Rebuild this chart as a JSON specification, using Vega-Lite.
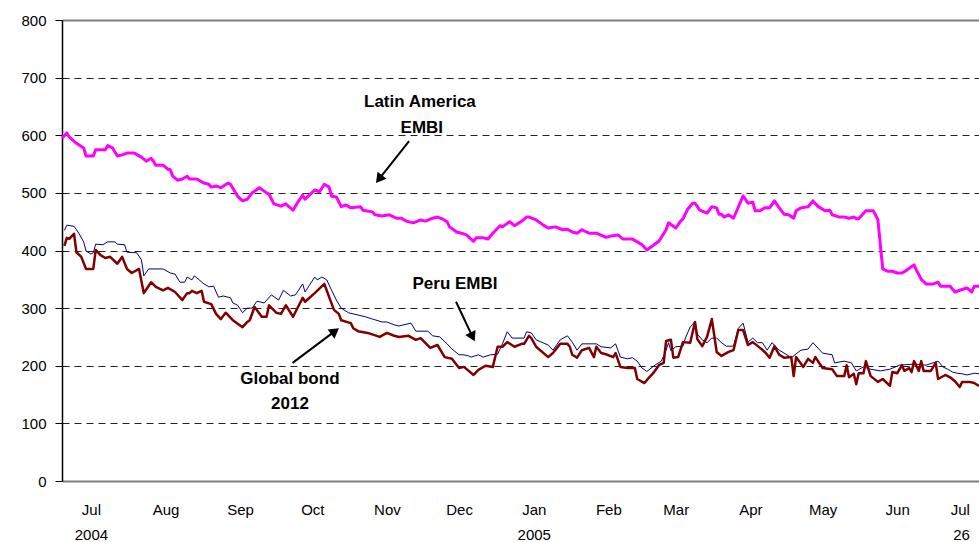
{
  "$schema": "https://vega.github.io/schema/vega-lite/v6.json",
  "width": 917,
  "height": 461,
  "autosize": {"type": "none"},
  "padding": {"left": 62, "top": 20, "right": 0, "bottom": 61},
  "background": "white",
  "config": {"view": {"stroke": null}, "font": "Liberation Sans"},
  "datasets": {
    "spreads": [
      {"series":"Latin America EMBI","date":"2004-06-19","value":595},
      {"series":"Latin America EMBI","date":"2004-06-21","value":604},
      {"series":"Latin America EMBI","date":"2004-06-22","value":597},
      {"series":"Latin America EMBI","date":"2004-06-25","value":586},
      {"series":"Latin America EMBI","date":"2004-06-28","value":578},
      {"series":"Latin America EMBI","date":"2004-06-29","value":564},
      {"series":"Latin America EMBI","date":"2004-07-02","value":564},
      {"series":"Latin America EMBI","date":"2004-07-03","value":575},
      {"series":"Latin America EMBI","date":"2004-07-07","value":575},
      {"series":"Latin America EMBI","date":"2004-07-08","value":582},
      {"series":"Latin America EMBI","date":"2004-07-10","value":578},
      {"series":"Latin America EMBI","date":"2004-07-12","value":564},
      {"series":"Latin America EMBI","date":"2004-07-14","value":566},
      {"series":"Latin America EMBI","date":"2004-07-16","value":569},
      {"series":"Latin America EMBI","date":"2004-07-19","value":569},
      {"series":"Latin America EMBI","date":"2004-07-22","value":562},
      {"series":"Latin America EMBI","date":"2004-07-24","value":555},
      {"series":"Latin America EMBI","date":"2004-07-26","value":560},
      {"series":"Latin America EMBI","date":"2004-07-27","value":555},
      {"series":"Latin America EMBI","date":"2004-07-28","value":548},
      {"series":"Latin America EMBI","date":"2004-07-31","value":548},
      {"series":"Latin America EMBI","date":"2004-08-02","value":541},
      {"series":"Latin America EMBI","date":"2004-08-03","value":540},
      {"series":"Latin America EMBI","date":"2004-08-04","value":529},
      {"series":"Latin America EMBI","date":"2004-08-06","value":522},
      {"series":"Latin America EMBI","date":"2004-08-08","value":524},
      {"series":"Latin America EMBI","date":"2004-08-10","value":529},
      {"series":"Latin America EMBI","date":"2004-08-11","value":524},
      {"series":"Latin America EMBI","date":"2004-08-14","value":524},
      {"series":"Latin America EMBI","date":"2004-08-17","value":517},
      {"series":"Latin America EMBI","date":"2004-08-19","value":515},
      {"series":"Latin America EMBI","date":"2004-08-20","value":510},
      {"series":"Latin America EMBI","date":"2004-08-22","value":512},
      {"series":"Latin America EMBI","date":"2004-08-24","value":509},
      {"series":"Latin America EMBI","date":"2004-08-27","value":517},
      {"series":"Latin America EMBI","date":"2004-08-28","value":515},
      {"series":"Latin America EMBI","date":"2004-08-31","value":494},
      {"series":"Latin America EMBI","date":"2004-09-02","value":486},
      {"series":"Latin America EMBI","date":"2004-09-04","value":489},
      {"series":"Latin America EMBI","date":"2004-09-06","value":500},
      {"series":"Latin America EMBI","date":"2004-09-09","value":509},
      {"series":"Latin America EMBI","date":"2004-09-12","value":500},
      {"series":"Latin America EMBI","date":"2004-09-13","value":498},
      {"series":"Latin America EMBI","date":"2004-09-15","value":481},
      {"series":"Latin America EMBI","date":"2004-09-18","value":477},
      {"series":"Latin America EMBI","date":"2004-09-20","value":481},
      {"series":"Latin America EMBI","date":"2004-09-21","value":477},
      {"series":"Latin America EMBI","date":"2004-09-23","value":470},
      {"series":"Latin America EMBI","date":"2004-09-25","value":484},
      {"series":"Latin America EMBI","date":"2004-09-27","value":496},
      {"series":"Latin America EMBI","date":"2004-09-28","value":489},
      {"series":"Latin America EMBI","date":"2004-09-29","value":493},
      {"series":"Latin America EMBI","date":"2004-10-02","value":505},
      {"series":"Latin America EMBI","date":"2004-10-04","value":502},
      {"series":"Latin America EMBI","date":"2004-10-06","value":515},
      {"series":"Latin America EMBI","date":"2004-10-08","value":510},
      {"series":"Latin America EMBI","date":"2004-10-09","value":494},
      {"series":"Latin America EMBI","date":"2004-10-11","value":493},
      {"series":"Latin America EMBI","date":"2004-10-13","value":476},
      {"series":"Latin America EMBI","date":"2004-10-15","value":479},
      {"series":"Latin America EMBI","date":"2004-10-17","value":474},
      {"series":"Latin America EMBI","date":"2004-10-21","value":476},
      {"series":"Latin America EMBI","date":"2004-10-22","value":470},
      {"series":"Latin America EMBI","date":"2004-10-26","value":467},
      {"series":"Latin America EMBI","date":"2004-10-27","value":462},
      {"series":"Latin America EMBI","date":"2004-10-30","value":460},
      {"series":"Latin America EMBI","date":"2004-11-02","value":462},
      {"series":"Latin America EMBI","date":"2004-11-05","value":456},
      {"series":"Latin America EMBI","date":"2004-11-07","value":456},
      {"series":"Latin America EMBI","date":"2004-11-09","value":451},
      {"series":"Latin America EMBI","date":"2004-11-12","value":448},
      {"series":"Latin America EMBI","date":"2004-11-15","value":453},
      {"series":"Latin America EMBI","date":"2004-11-17","value":451},
      {"series":"Latin America EMBI","date":"2004-11-20","value":456},
      {"series":"Latin America EMBI","date":"2004-11-22","value":458},
      {"series":"Latin America EMBI","date":"2004-11-24","value":455},
      {"series":"Latin America EMBI","date":"2004-11-26","value":450},
      {"series":"Latin America EMBI","date":"2004-11-27","value":441},
      {"series":"Latin America EMBI","date":"2004-11-30","value":432},
      {"series":"Latin America EMBI","date":"2004-12-02","value":430},
      {"series":"Latin America EMBI","date":"2004-12-04","value":427},
      {"series":"Latin America EMBI","date":"2004-12-07","value":416},
      {"series":"Latin America EMBI","date":"2004-12-08","value":422},
      {"series":"Latin America EMBI","date":"2004-12-11","value":422},
      {"series":"Latin America EMBI","date":"2004-12-13","value":420},
      {"series":"Latin America EMBI","date":"2004-12-15","value":430},
      {"series":"Latin America EMBI","date":"2004-12-18","value":443},
      {"series":"Latin America EMBI","date":"2004-12-19","value":441},
      {"series":"Latin America EMBI","date":"2004-12-22","value":450},
      {"series":"Latin America EMBI","date":"2004-12-24","value":443},
      {"series":"Latin America EMBI","date":"2004-12-27","value":451},
      {"series":"Latin America EMBI","date":"2004-12-29","value":458},
      {"series":"Latin America EMBI","date":"2004-12-30","value":458},
      {"series":"Latin America EMBI","date":"2005-01-02","value":453},
      {"series":"Latin America EMBI","date":"2005-01-05","value":444},
      {"series":"Latin America EMBI","date":"2005-01-07","value":439},
      {"series":"Latin America EMBI","date":"2005-01-10","value":441},
      {"series":"Latin America EMBI","date":"2005-01-13","value":436},
      {"series":"Latin America EMBI","date":"2005-01-15","value":437},
      {"series":"Latin America EMBI","date":"2005-01-17","value":432},
      {"series":"Latin America EMBI","date":"2005-01-19","value":430},
      {"series":"Latin America EMBI","date":"2005-01-21","value":436},
      {"series":"Latin America EMBI","date":"2005-01-24","value":430},
      {"series":"Latin America EMBI","date":"2005-01-27","value":430},
      {"series":"Latin America EMBI","date":"2005-01-31","value":423},
      {"series":"Latin America EMBI","date":"2005-02-02","value":425},
      {"series":"Latin America EMBI","date":"2005-02-05","value":427},
      {"series":"Latin America EMBI","date":"2005-02-07","value":420},
      {"series":"Latin America EMBI","date":"2005-02-11","value":420},
      {"series":"Latin America EMBI","date":"2005-02-13","value":415},
      {"series":"Latin America EMBI","date":"2005-02-15","value":410},
      {"series":"Latin America EMBI","date":"2005-02-17","value":401},
      {"series":"Latin America EMBI","date":"2005-02-20","value":410},
      {"series":"Latin America EMBI","date":"2005-02-22","value":416},
      {"series":"Latin America EMBI","date":"2005-02-25","value":436},
      {"series":"Latin America EMBI","date":"2005-02-26","value":448},
      {"series":"Latin America EMBI","date":"2005-03-01","value":439},
      {"series":"Latin America EMBI","date":"2005-03-03","value":451},
      {"series":"Latin America EMBI","date":"2005-03-04","value":455},
      {"series":"Latin America EMBI","date":"2005-03-06","value":472},
      {"series":"Latin America EMBI","date":"2005-03-08","value":482},
      {"series":"Latin America EMBI","date":"2005-03-09","value":482},
      {"series":"Latin America EMBI","date":"2005-03-11","value":470},
      {"series":"Latin America EMBI","date":"2005-03-14","value":465},
      {"series":"Latin America EMBI","date":"2005-03-16","value":476},
      {"series":"Latin America EMBI","date":"2005-03-18","value":474},
      {"series":"Latin America EMBI","date":"2005-03-19","value":463},
      {"series":"Latin America EMBI","date":"2005-03-20","value":463},
      {"series":"Latin America EMBI","date":"2005-03-21","value":458},
      {"series":"Latin America EMBI","date":"2005-03-23","value":462},
      {"series":"Latin America EMBI","date":"2005-03-25","value":456},
      {"series":"Latin America EMBI","date":"2005-03-29","value":495},
      {"series":"Latin America EMBI","date":"2005-03-31","value":482},
      {"series":"Latin America EMBI","date":"2005-04-02","value":484},
      {"series":"Latin America EMBI","date":"2005-04-03","value":469},
      {"series":"Latin America EMBI","date":"2005-04-05","value":469},
      {"series":"Latin America EMBI","date":"2005-04-07","value":474},
      {"series":"Latin America EMBI","date":"2005-04-09","value":474},
      {"series":"Latin America EMBI","date":"2005-04-11","value":486},
      {"series":"Latin America EMBI","date":"2005-04-13","value":474},
      {"series":"Latin America EMBI","date":"2005-04-15","value":463},
      {"series":"Latin America EMBI","date":"2005-04-17","value":462},
      {"series":"Latin America EMBI","date":"2005-04-19","value":456},
      {"series":"Latin America EMBI","date":"2005-04-20","value":469},
      {"series":"Latin America EMBI","date":"2005-04-22","value":474},
      {"series":"Latin America EMBI","date":"2005-04-25","value":476},
      {"series":"Latin America EMBI","date":"2005-04-27","value":486},
      {"series":"Latin America EMBI","date":"2005-04-29","value":477},
      {"series":"Latin America EMBI","date":"2005-05-02","value":469},
      {"series":"Latin America EMBI","date":"2005-05-04","value":470},
      {"series":"Latin America EMBI","date":"2005-05-05","value":462},
      {"series":"Latin America EMBI","date":"2005-05-08","value":458},
      {"series":"Latin America EMBI","date":"2005-05-10","value":458},
      {"series":"Latin America EMBI","date":"2005-05-12","value":456},
      {"series":"Latin America EMBI","date":"2005-05-14","value":458},
      {"series":"Latin America EMBI","date":"2005-05-15","value":455},
      {"series":"Latin America EMBI","date":"2005-05-16","value":455},
      {"series":"Latin America EMBI","date":"2005-05-19","value":469},
      {"series":"Latin America EMBI","date":"2005-05-22","value":469},
      {"series":"Latin America EMBI","date":"2005-05-23","value":462},
      {"series":"Latin America EMBI","date":"2005-05-24","value":453},
      {"series":"Latin America EMBI","date":"2005-05-26","value":368},
      {"series":"Latin America EMBI","date":"2005-05-28","value":364},
      {"series":"Latin America EMBI","date":"2005-05-30","value":364},
      {"series":"Latin America EMBI","date":"2005-06-01","value":361},
      {"series":"Latin America EMBI","date":"2005-06-03","value":361},
      {"series":"Latin America EMBI","date":"2005-06-05","value":366},
      {"series":"Latin America EMBI","date":"2005-06-08","value":375},
      {"series":"Latin America EMBI","date":"2005-06-09","value":366},
      {"series":"Latin America EMBI","date":"2005-06-11","value":350},
      {"series":"Latin America EMBI","date":"2005-06-13","value":342},
      {"series":"Latin America EMBI","date":"2005-06-16","value":342},
      {"series":"Latin America EMBI","date":"2005-06-18","value":345},
      {"series":"Latin America EMBI","date":"2005-06-19","value":338},
      {"series":"Latin America EMBI","date":"2005-06-23","value":338},
      {"series":"Latin America EMBI","date":"2005-06-25","value":328},
      {"series":"Latin America EMBI","date":"2005-06-27","value":331},
      {"series":"Latin America EMBI","date":"2005-06-30","value":335},
      {"series":"Latin America EMBI","date":"2005-07-02","value":328},
      {"series":"Latin America EMBI","date":"2005-07-03","value":338},
      {"series":"Latin America EMBI","date":"2005-07-05","value":338},

      {"series":"Peru EMBI","date":"2004-06-20","value":435},
      {"series":"Peru EMBI","date":"2004-06-21","value":444},
      {"series":"Peru EMBI","date":"2004-06-24","value":442},
      {"series":"Peru EMBI","date":"2004-06-26","value":430},
      {"series":"Peru EMBI","date":"2004-06-28","value":415},
      {"series":"Peru EMBI","date":"2004-06-29","value":399},
      {"series":"Peru EMBI","date":"2004-07-01","value":394},
      {"series":"Peru EMBI","date":"2004-07-02","value":396},
      {"series":"Peru EMBI","date":"2004-07-03","value":411},
      {"series":"Peru EMBI","date":"2004-07-06","value":410},
      {"series":"Peru EMBI","date":"2004-07-08","value":415},
      {"series":"Peru EMBI","date":"2004-07-11","value":415},
      {"series":"Peru EMBI","date":"2004-07-12","value":411},
      {"series":"Peru EMBI","date":"2004-07-15","value":410},
      {"series":"Peru EMBI","date":"2004-07-16","value":397},
      {"series":"Peru EMBI","date":"2004-07-20","value":396},
      {"series":"Peru EMBI","date":"2004-07-22","value":384},
      {"series":"Peru EMBI","date":"2004-07-23","value":356},
      {"series":"Peru EMBI","date":"2004-07-25","value":368},
      {"series":"Peru EMBI","date":"2004-07-31","value":368},
      {"series":"Peru EMBI","date":"2004-08-03","value":361},
      {"series":"Peru EMBI","date":"2004-08-05","value":359},
      {"series":"Peru EMBI","date":"2004-08-07","value":345},
      {"series":"Peru EMBI","date":"2004-08-09","value":345},
      {"series":"Peru EMBI","date":"2004-08-10","value":354},
      {"series":"Peru EMBI","date":"2004-08-12","value":349},
      {"series":"Peru EMBI","date":"2004-08-13","value":356},
      {"series":"Peru EMBI","date":"2004-08-17","value":342},
      {"series":"Peru EMBI","date":"2004-08-19","value":337},
      {"series":"Peru EMBI","date":"2004-08-21","value":338},
      {"series":"Peru EMBI","date":"2004-08-23","value":319},
      {"series":"Peru EMBI","date":"2004-08-25","value":321},
      {"series":"Peru EMBI","date":"2004-08-28","value":318},
      {"series":"Peru EMBI","date":"2004-08-29","value":309},
      {"series":"Peru EMBI","date":"2004-08-31","value":305},
      {"series":"Peru EMBI","date":"2004-09-02","value":292},
      {"series":"Peru EMBI","date":"2004-09-04","value":300},
      {"series":"Peru EMBI","date":"2004-09-06","value":300},
      {"series":"Peru EMBI","date":"2004-09-08","value":312},
      {"series":"Peru EMBI","date":"2004-09-11","value":309},
      {"series":"Peru EMBI","date":"2004-09-14","value":323},
      {"series":"Peru EMBI","date":"2004-09-17","value":314},
      {"series":"Peru EMBI","date":"2004-09-19","value":331},
      {"series":"Peru EMBI","date":"2004-09-22","value":321},
      {"series":"Peru EMBI","date":"2004-09-24","value":323},
      {"series":"Peru EMBI","date":"2004-09-27","value":342},
      {"series":"Peru EMBI","date":"2004-09-28","value":328},
      {"series":"Peru EMBI","date":"2004-10-02","value":354},
      {"series":"Peru EMBI","date":"2004-10-03","value":349},
      {"series":"Peru EMBI","date":"2004-10-05","value":354},
      {"series":"Peru EMBI","date":"2004-10-07","value":349},
      {"series":"Peru EMBI","date":"2004-10-09","value":331},
      {"series":"Peru EMBI","date":"2004-10-11","value":314},
      {"series":"Peru EMBI","date":"2004-10-13","value":300},
      {"series":"Peru EMBI","date":"2004-10-16","value":292},
      {"series":"Peru EMBI","date":"2004-10-20","value":288},
      {"series":"Peru EMBI","date":"2004-10-23","value":285},
      {"series":"Peru EMBI","date":"2004-10-26","value":281},
      {"series":"Peru EMBI","date":"2004-10-30","value":276},
      {"series":"Peru EMBI","date":"2004-11-01","value":276},
      {"series":"Peru EMBI","date":"2004-11-04","value":271},
      {"series":"Peru EMBI","date":"2004-11-06","value":269},
      {"series":"Peru EMBI","date":"2004-11-11","value":274},
      {"series":"Peru EMBI","date":"2004-11-13","value":260},
      {"series":"Peru EMBI","date":"2004-11-18","value":260},
      {"series":"Peru EMBI","date":"2004-11-20","value":252},
      {"series":"Peru EMBI","date":"2004-11-23","value":250},
      {"series":"Peru EMBI","date":"2004-11-26","value":238},
      {"series":"Peru EMBI","date":"2004-11-28","value":229},
      {"series":"Peru EMBI","date":"2004-12-01","value":219},
      {"series":"Peru EMBI","date":"2004-12-03","value":219},
      {"series":"Peru EMBI","date":"2004-12-05","value":217},
      {"series":"Peru EMBI","date":"2004-12-06","value":215},
      {"series":"Peru EMBI","date":"2004-12-09","value":219},
      {"series":"Peru EMBI","date":"2004-12-11","value":215},
      {"series":"Peru EMBI","date":"2004-12-14","value":219},
      {"series":"Peru EMBI","date":"2004-12-17","value":220},
      {"series":"Peru EMBI","date":"2004-12-19","value":238},
      {"series":"Peru EMBI","date":"2004-12-21","value":259},
      {"series":"Peru EMBI","date":"2004-12-23","value":248},
      {"series":"Peru EMBI","date":"2004-12-28","value":248},
      {"series":"Peru EMBI","date":"2004-12-29","value":259},
      {"series":"Peru EMBI","date":"2004-12-31","value":257},
      {"series":"Peru EMBI","date":"2005-01-02","value":245},
      {"series":"Peru EMBI","date":"2005-01-07","value":236},
      {"series":"Peru EMBI","date":"2005-01-09","value":227},
      {"series":"Peru EMBI","date":"2005-01-12","value":245},
      {"series":"Peru EMBI","date":"2005-01-15","value":252},
      {"series":"Peru EMBI","date":"2005-01-17","value":241},
      {"series":"Peru EMBI","date":"2005-01-19","value":227},
      {"series":"Peru EMBI","date":"2005-01-21","value":238},
      {"series":"Peru EMBI","date":"2005-01-27","value":238},
      {"series":"Peru EMBI","date":"2005-01-29","value":233},
      {"series":"Peru EMBI","date":"2005-02-02","value":231},
      {"series":"Peru EMBI","date":"2005-02-04","value":238},
      {"series":"Peru EMBI","date":"2005-02-06","value":215},
      {"series":"Peru EMBI","date":"2005-02-09","value":212},
      {"series":"Peru EMBI","date":"2005-02-11","value":214},
      {"series":"Peru EMBI","date":"2005-02-13","value":208},
      {"series":"Peru EMBI","date":"2005-02-15","value":196},
      {"series":"Peru EMBI","date":"2005-02-17","value":190},
      {"series":"Peru EMBI","date":"2005-02-20","value":200},
      {"series":"Peru EMBI","date":"2005-02-23","value":208},
      {"series":"Peru EMBI","date":"2005-02-25","value":227},
      {"series":"Peru EMBI","date":"2005-02-26","value":240},
      {"series":"Peru EMBI","date":"2005-02-27","value":226},
      {"series":"Peru EMBI","date":"2005-03-01","value":233},
      {"series":"Peru EMBI","date":"2005-03-04","value":234},
      {"series":"Peru EMBI","date":"2005-03-05","value":248},
      {"series":"Peru EMBI","date":"2005-03-07","value":267},
      {"series":"Peru EMBI","date":"2005-03-09","value":277},
      {"series":"Peru EMBI","date":"2005-03-10","value":255},
      {"series":"Peru EMBI","date":"2005-03-12","value":245},
      {"series":"Peru EMBI","date":"2005-03-14","value":240},
      {"series":"Peru EMBI","date":"2005-03-16","value":248},
      {"series":"Peru EMBI","date":"2005-03-18","value":248},
      {"series":"Peru EMBI","date":"2005-03-20","value":240},
      {"series":"Peru EMBI","date":"2005-03-22","value":234},
      {"series":"Peru EMBI","date":"2005-03-25","value":234},
      {"series":"Peru EMBI","date":"2005-03-27","value":265},
      {"series":"Peru EMBI","date":"2005-03-29","value":274},
      {"series":"Peru EMBI","date":"2005-03-31","value":241},
      {"series":"Peru EMBI","date":"2005-04-02","value":248},
      {"series":"Peru EMBI","date":"2005-04-04","value":240},
      {"series":"Peru EMBI","date":"2005-04-06","value":240},
      {"series":"Peru EMBI","date":"2005-04-08","value":227},
      {"series":"Peru EMBI","date":"2005-04-10","value":240},
      {"series":"Peru EMBI","date":"2005-04-13","value":227},
      {"series":"Peru EMBI","date":"2005-04-15","value":222},
      {"series":"Peru EMBI","date":"2005-04-18","value":214},
      {"series":"Peru EMBI","date":"2005-04-22","value":227},
      {"series":"Peru EMBI","date":"2005-04-25","value":229},
      {"series":"Peru EMBI","date":"2005-04-27","value":240},
      {"series":"Peru EMBI","date":"2005-05-01","value":222},
      {"series":"Peru EMBI","date":"2005-05-05","value":219},
      {"series":"Peru EMBI","date":"2005-05-06","value":205},
      {"series":"Peru EMBI","date":"2005-05-10","value":208},
      {"series":"Peru EMBI","date":"2005-05-13","value":205},
      {"series":"Peru EMBI","date":"2005-05-15","value":191},
      {"series":"Peru EMBI","date":"2005-05-18","value":198},
      {"series":"Peru EMBI","date":"2005-05-21","value":194},
      {"series":"Peru EMBI","date":"2005-05-25","value":191},
      {"series":"Peru EMBI","date":"2005-05-29","value":194},
      {"series":"Peru EMBI","date":"2005-06-02","value":201},
      {"series":"Peru EMBI","date":"2005-06-08","value":203},
      {"series":"Peru EMBI","date":"2005-06-13","value":201},
      {"series":"Peru EMBI","date":"2005-06-18","value":208},
      {"series":"Peru EMBI","date":"2005-06-20","value":198},
      {"series":"Peru EMBI","date":"2005-06-22","value":194},
      {"series":"Peru EMBI","date":"2005-06-24","value":189},
      {"series":"Peru EMBI","date":"2005-06-26","value":187},
      {"series":"Peru EMBI","date":"2005-06-28","value":186},
      {"series":"Peru EMBI","date":"2005-06-30","value":184},
      {"series":"Peru EMBI","date":"2005-07-03","value":187},
      {"series":"Peru EMBI","date":"2005-07-05","value":186},

      {"series":"Global bond 2012","date":"2004-06-20","value":408},
      {"series":"Global bond 2012","date":"2004-06-21","value":422},
      {"series":"Global bond 2012","date":"2004-06-22","value":420},
      {"series":"Global bond 2012","date":"2004-06-24","value":429},
      {"series":"Global bond 2012","date":"2004-06-25","value":397},
      {"series":"Global bond 2012","date":"2004-06-27","value":389},
      {"series":"Global bond 2012","date":"2004-06-29","value":368},
      {"series":"Global bond 2012","date":"2004-07-02","value":368},
      {"series":"Global bond 2012","date":"2004-07-03","value":401},
      {"series":"Global bond 2012","date":"2004-07-05","value":392},
      {"series":"Global bond 2012","date":"2004-07-07","value":387},
      {"series":"Global bond 2012","date":"2004-07-09","value":389},
      {"series":"Global bond 2012","date":"2004-07-12","value":377},
      {"series":"Global bond 2012","date":"2004-07-14","value":389},
      {"series":"Global bond 2012","date":"2004-07-16","value":368},
      {"series":"Global bond 2012","date":"2004-07-18","value":361},
      {"series":"Global bond 2012","date":"2004-07-21","value":368},
      {"series":"Global bond 2012","date":"2004-07-23","value":326},
      {"series":"Global bond 2012","date":"2004-07-26","value":345},
      {"series":"Global bond 2012","date":"2004-07-28","value":337},
      {"series":"Global bond 2012","date":"2004-07-31","value":331},
      {"series":"Global bond 2012","date":"2004-08-02","value":335},
      {"series":"Global bond 2012","date":"2004-08-05","value":328},
      {"series":"Global bond 2012","date":"2004-08-08","value":314},
      {"series":"Global bond 2012","date":"2004-08-10","value":326},
      {"series":"Global bond 2012","date":"2004-08-11","value":326},
      {"series":"Global bond 2012","date":"2004-08-12","value":330},
      {"series":"Global bond 2012","date":"2004-08-14","value":326},
      {"series":"Global bond 2012","date":"2004-08-16","value":330},
      {"series":"Global bond 2012","date":"2004-08-17","value":311},
      {"series":"Global bond 2012","date":"2004-08-20","value":307},
      {"series":"Global bond 2012","date":"2004-08-22","value":290},
      {"series":"Global bond 2012","date":"2004-08-24","value":281},
      {"series":"Global bond 2012","date":"2004-08-26","value":292},
      {"series":"Global bond 2012","date":"2004-08-29","value":279},
      {"series":"Global bond 2012","date":"2004-09-02","value":267},
      {"series":"Global bond 2012","date":"2004-09-04","value":276},
      {"series":"Global bond 2012","date":"2004-09-05","value":279},
      {"series":"Global bond 2012","date":"2004-09-07","value":302},
      {"series":"Global bond 2012","date":"2004-09-10","value":285},
      {"series":"Global bond 2012","date":"2004-09-12","value":285},
      {"series":"Global bond 2012","date":"2004-09-13","value":305},
      {"series":"Global bond 2012","date":"2004-09-16","value":292},
      {"series":"Global bond 2012","date":"2004-09-18","value":290},
      {"series":"Global bond 2012","date":"2004-09-20","value":305},
      {"series":"Global bond 2012","date":"2004-09-23","value":285},
      {"series":"Global bond 2012","date":"2004-09-27","value":318},
      {"series":"Global bond 2012","date":"2004-09-28","value":311},
      {"series":"Global bond 2012","date":"2004-10-02","value":326},
      {"series":"Global bond 2012","date":"2004-10-06","value":342},
      {"series":"Global bond 2012","date":"2004-10-08","value":319},
      {"series":"Global bond 2012","date":"2004-10-10","value":297},
      {"series":"Global bond 2012","date":"2004-10-12","value":290},
      {"series":"Global bond 2012","date":"2004-10-13","value":279},
      {"series":"Global bond 2012","date":"2004-10-17","value":274},
      {"series":"Global bond 2012","date":"2004-10-18","value":265},
      {"series":"Global bond 2012","date":"2004-10-20","value":260},
      {"series":"Global bond 2012","date":"2004-10-24","value":257},
      {"series":"Global bond 2012","date":"2004-10-29","value":250},
      {"series":"Global bond 2012","date":"2004-11-01","value":257},
      {"series":"Global bond 2012","date":"2004-11-04","value":252},
      {"series":"Global bond 2012","date":"2004-11-06","value":250},
      {"series":"Global bond 2012","date":"2004-11-10","value":252},
      {"series":"Global bond 2012","date":"2004-11-13","value":245},
      {"series":"Global bond 2012","date":"2004-11-15","value":248},
      {"series":"Global bond 2012","date":"2004-11-19","value":231},
      {"series":"Global bond 2012","date":"2004-11-22","value":236},
      {"series":"Global bond 2012","date":"2004-11-25","value":215},
      {"series":"Global bond 2012","date":"2004-11-28","value":212},
      {"series":"Global bond 2012","date":"2004-12-01","value":196},
      {"series":"Global bond 2012","date":"2004-12-03","value":198},
      {"series":"Global bond 2012","date":"2004-12-07","value":184},
      {"series":"Global bond 2012","date":"2004-12-09","value":193},
      {"series":"Global bond 2012","date":"2004-12-12","value":200},
      {"series":"Global bond 2012","date":"2004-12-15","value":198},
      {"series":"Global bond 2012","date":"2004-12-17","value":233},
      {"series":"Global bond 2012","date":"2004-12-19","value":233},
      {"series":"Global bond 2012","date":"2004-12-21","value":241},
      {"series":"Global bond 2012","date":"2004-12-24","value":233},
      {"series":"Global bond 2012","date":"2004-12-27","value":238},
      {"series":"Global bond 2012","date":"2004-12-28","value":238},
      {"series":"Global bond 2012","date":"2004-12-30","value":252},
      {"series":"Global bond 2012","date":"2004-12-31","value":248},
      {"series":"Global bond 2012","date":"2005-01-02","value":233},
      {"series":"Global bond 2012","date":"2005-01-07","value":215},
      {"series":"Global bond 2012","date":"2005-01-09","value":222},
      {"series":"Global bond 2012","date":"2005-01-12","value":238},
      {"series":"Global bond 2012","date":"2005-01-15","value":238},
      {"series":"Global bond 2012","date":"2005-01-16","value":233},
      {"series":"Global bond 2012","date":"2005-01-17","value":219},
      {"series":"Global bond 2012","date":"2005-01-19","value":214},
      {"series":"Global bond 2012","date":"2005-01-21","value":227},
      {"series":"Global bond 2012","date":"2005-01-24","value":231},
      {"series":"Global bond 2012","date":"2005-01-26","value":215},
      {"series":"Global bond 2012","date":"2005-01-27","value":233},
      {"series":"Global bond 2012","date":"2005-01-29","value":222},
      {"series":"Global bond 2012","date":"2005-01-31","value":220},
      {"series":"Global bond 2012","date":"2005-02-03","value":215},
      {"series":"Global bond 2012","date":"2005-02-04","value":222},
      {"series":"Global bond 2012","date":"2005-02-06","value":198},
      {"series":"Global bond 2012","date":"2005-02-09","value":196},
      {"series":"Global bond 2012","date":"2005-02-12","value":196},
      {"series":"Global bond 2012","date":"2005-02-13","value":177},
      {"series":"Global bond 2012","date":"2005-02-16","value":170},
      {"series":"Global bond 2012","date":"2005-02-18","value":180},
      {"series":"Global bond 2012","date":"2005-02-20","value":189},
      {"series":"Global bond 2012","date":"2005-02-22","value":201},
      {"series":"Global bond 2012","date":"2005-02-24","value":205},
      {"series":"Global bond 2012","date":"2005-02-25","value":243},
      {"series":"Global bond 2012","date":"2005-02-27","value":245},
      {"series":"Global bond 2012","date":"2005-02-28","value":214},
      {"series":"Global bond 2012","date":"2005-03-02","value":215},
      {"series":"Global bond 2012","date":"2005-03-04","value":241},
      {"series":"Global bond 2012","date":"2005-03-07","value":240},
      {"series":"Global bond 2012","date":"2005-03-09","value":276},
      {"series":"Global bond 2012","date":"2005-03-10","value":246},
      {"series":"Global bond 2012","date":"2005-03-12","value":234},
      {"series":"Global bond 2012","date":"2005-03-14","value":250},
      {"series":"Global bond 2012","date":"2005-03-16","value":281},
      {"series":"Global bond 2012","date":"2005-03-18","value":224},
      {"series":"Global bond 2012","date":"2005-03-20","value":217},
      {"series":"Global bond 2012","date":"2005-03-23","value":224},
      {"series":"Global bond 2012","date":"2005-03-25","value":227},
      {"series":"Global bond 2012","date":"2005-03-27","value":262},
      {"series":"Global bond 2012","date":"2005-03-29","value":262},
      {"series":"Global bond 2012","date":"2005-03-31","value":236},
      {"series":"Global bond 2012","date":"2005-04-02","value":241},
      {"series":"Global bond 2012","date":"2005-04-05","value":231},
      {"series":"Global bond 2012","date":"2005-04-07","value":224},
      {"series":"Global bond 2012","date":"2005-04-09","value":214},
      {"series":"Global bond 2012","date":"2005-04-11","value":234},
      {"series":"Global bond 2012","date":"2005-04-13","value":219},
      {"series":"Global bond 2012","date":"2005-04-15","value":214},
      {"series":"Global bond 2012","date":"2005-04-18","value":215},
      {"series":"Global bond 2012","date":"2005-04-19","value":182},
      {"series":"Global bond 2012","date":"2005-04-20","value":215},
      {"series":"Global bond 2012","date":"2005-04-23","value":198},
      {"series":"Global bond 2012","date":"2005-04-25","value":212},
      {"series":"Global bond 2012","date":"2005-04-27","value":205},
      {"series":"Global bond 2012","date":"2005-04-28","value":215},
      {"series":"Global bond 2012","date":"2005-05-01","value":196},
      {"series":"Global bond 2012","date":"2005-05-05","value":194},
      {"series":"Global bond 2012","date":"2005-05-07","value":182},
      {"series":"Global bond 2012","date":"2005-05-10","value":182},
      {"series":"Global bond 2012","date":"2005-05-11","value":201},
      {"series":"Global bond 2012","date":"2005-05-12","value":180},
      {"series":"Global bond 2012","date":"2005-05-14","value":186},
      {"series":"Global bond 2012","date":"2005-05-15","value":168},
      {"series":"Global bond 2012","date":"2005-05-16","value":187},
      {"series":"Global bond 2012","date":"2005-05-18","value":187},
      {"series":"Global bond 2012","date":"2005-05-19","value":208},
      {"series":"Global bond 2012","date":"2005-05-21","value":182},
      {"series":"Global bond 2012","date":"2005-05-24","value":172},
      {"series":"Global bond 2012","date":"2005-05-26","value":177},
      {"series":"Global bond 2012","date":"2005-05-29","value":165},
      {"series":"Global bond 2012","date":"2005-05-30","value":189},
      {"series":"Global bond 2012","date":"2005-06-01","value":187},
      {"series":"Global bond 2012","date":"2005-06-03","value":201},
      {"series":"Global bond 2012","date":"2005-06-04","value":191},
      {"series":"Global bond 2012","date":"2005-06-06","value":196},
      {"series":"Global bond 2012","date":"2005-06-07","value":189},
      {"series":"Global bond 2012","date":"2005-06-08","value":208},
      {"series":"Global bond 2012","date":"2005-06-10","value":191},
      {"series":"Global bond 2012","date":"2005-06-11","value":208},
      {"series":"Global bond 2012","date":"2005-06-12","value":191},
      {"series":"Global bond 2012","date":"2005-06-15","value":191},
      {"series":"Global bond 2012","date":"2005-06-17","value":205},
      {"series":"Global bond 2012","date":"2005-06-18","value":177},
      {"series":"Global bond 2012","date":"2005-06-21","value":184},
      {"series":"Global bond 2012","date":"2005-06-23","value":180},
      {"series":"Global bond 2012","date":"2005-06-25","value":173},
      {"series":"Global bond 2012","date":"2005-06-27","value":163},
      {"series":"Global bond 2012","date":"2005-06-28","value":172},
      {"series":"Global bond 2012","date":"2005-07-01","value":172},
      {"series":"Global bond 2012","date":"2005-07-03","value":170},
      {"series":"Global bond 2012","date":"2005-07-05","value":165}
    ],
    "labels": [
      {"text":"Latin America","date":"2004-11-14T17:00:00Z","value":658},
      {"text":"EMBI","date":"2004-11-15T12:00:00Z","value":613},
      {"text":"Peru EMBI","date":"2004-11-29T07:00:00Z","value":342},
      {"text":"Global bond","date":"2004-09-21T17:00:00Z","value":177},
      {"text":"2012","date":"2004-09-21T17:00:00Z","value":134}
    ],
    "arrows": [
      {"label":"Latin America EMBI","from":"2004-11-10T05:00:00Z","fromValue":590,"to":"2004-10-28T17:00:00Z","toValue":524},
      {"label":"Peru EMBI","from":"2004-11-29T17:00:00Z","fromValue":311,"to":"2004-12-06T14:00:00Z","toValue":250},
      {"label":"Global bond 2012","from":"2004-09-22T19:00:00Z","fromValue":205,"to":"2004-10-10T10:00:00Z","toValue":260}
    ]
  },
  "layer": [
    {
      "data": {"name": "spreads"},
      "transform": [{"filter": "datum.series == 'Latin America EMBI'"}],
      "mark": {"type": "line", "color": "#FF00FF", "strokeWidth": 3, "strokeJoin": "round"},
      "encoding": {
        "x": {
          "field": "date", "type": "temporal",
          "scale": {"type": "utc", "domain": [{"year": 2004, "month": 6, "date": 19, "utc": true}, {"year": 2005, "month": 7, "date": 5, "utc": true}]},
          "axis": {
            "title": null,
            "tickCount": {"interval": "month", "step": 1},
            "labelExpr": "utcmonth(datum.value) == 6 && utcyear(datum.value) == 2004 ? ['Jul', '2004'] : (utcmonth(datum.value) == 0 ? ['Jan', '2005'] : (utcmonth(datum.value) == 6 ? ['Jul', '26'] : utcFormat(datum.value, '%b')))",
            "labelAlign": {"condition": {"test": "utcmonth(datum.value) == 6 && utcyear(datum.value) == 2005", "value": "right"}, "value": "center"},
            "labelBaseline": "top",
            "labelFont": "Liberation Sans",
            "labelFontSize": 15,
            "labelColor": "black",
            "labelLineHeight": 25,
            "labelPadding": 21,
            "labelOverlap": false,
            "labelFlush": false,
            "ticks": false,
            "grid": false,
            "domainColor": "#808080",
            "domainWidth": 2
          }
        },
        "y": {
          "field": "value", "type": "quantitative",
          "scale": {"domain": [0, 800], "nice": false},
          "axis": {
            "title": null,
            "values": [0, 100, 200, 300, 400, 500, 600, 700, 800],
            "labelFont": "Liberation Sans",
            "labelFontSize": 15,
            "labelColor": "black",
            "labelPadding": 9,
            "tickSize": 7,
            "tickColor": "black",
            "domainColor": "black",
            "domainWidth": 1.5,
            "grid": true,
            "gridColor": {"condition": {"test": "datum.value == 800", "value": "#808080"}, "value": "#222222"},
            "gridDash": {"condition": {"test": "datum.value == 800", "value": []}, "value": [7, 5]},
            "gridWidth": {"condition": {"test": "datum.value == 800", "value": 2}, "value": 1},
            "gridOpacity": {"condition": {"test": "datum.value == 0", "value": 0}, "value": 1}
          }
        }
      }
    },
    {
      "data": {"name": "spreads"},
      "transform": [{"filter": "datum.series == 'Peru EMBI'"}],
      "mark": {"type": "line", "color": "#000080", "strokeWidth": 1, "strokeJoin": "round"},
      "encoding": {
        "x": {"field": "date", "type": "temporal", "title": null},
        "y": {"field": "value", "type": "quantitative", "title": null}
      }
    },
    {
      "data": {"name": "spreads"},
      "transform": [{"filter": "datum.series == 'Global bond 2012'"}],
      "mark": {"type": "line", "color": "#800000", "strokeWidth": 2.5, "strokeJoin": "round"},
      "encoding": {
        "x": {"field": "date", "type": "temporal", "title": null},
        "y": {"field": "value", "type": "quantitative", "title": null}
      }
    },
    {
      "data": {"name": "labels"},
      "mark": {"type": "text", "font": "Liberation Sans", "fontWeight": "bold", "fontSize": 17, "align": "center", "baseline": "middle", "color": "black"},
      "encoding": {
        "x": {"field": "date", "type": "temporal", "title": null},
        "y": {"field": "value", "type": "quantitative", "title": null},
        "text": {"field": "text"}
      }
    },
    {
      "data": {"name": "arrows"},
      "mark": {"type": "rule", "color": "black", "strokeWidth": 2},
      "encoding": {
        "x": {"field": "from", "type": "temporal", "title": null},
        "y": {"field": "fromValue", "type": "quantitative", "title": null},
        "x2": {"field": "to"},
        "y2": {"field": "toValue"}
      }
    },
    {
      "data": {"name": "arrows"},
      "transform": [{"filter": "datum.label == 'Latin America EMBI'"}],
      "mark": {"type": "point", "shape": "triangle-up", "filled": true, "color": "black", "opacity": 1, "size": 130, "angle": 218},
      "encoding": {
        "x": {"field": "to", "type": "temporal", "title": null},
        "y": {"field": "toValue", "type": "quantitative", "title": null}
      }
    },
    {
      "data": {"name": "arrows"},
      "transform": [{"filter": "datum.label == 'Peru EMBI'"}],
      "mark": {"type": "point", "shape": "triangle-up", "filled": true, "color": "black", "opacity": 1, "size": 130, "angle": 154},
      "encoding": {
        "x": {"field": "to", "type": "temporal", "title": null},
        "y": {"field": "toValue", "type": "quantitative", "title": null}
      }
    },
    {
      "data": {"name": "arrows"},
      "transform": [{"filter": "datum.label == 'Global bond 2012'"}],
      "mark": {"type": "point", "shape": "triangle-up", "filled": true, "color": "black", "opacity": 1, "size": 130, "angle": 53},
      "encoding": {
        "x": {"field": "to", "type": "temporal", "title": null},
        "y": {"field": "toValue", "type": "quantitative", "title": null}
      }
    }
  ]
}
